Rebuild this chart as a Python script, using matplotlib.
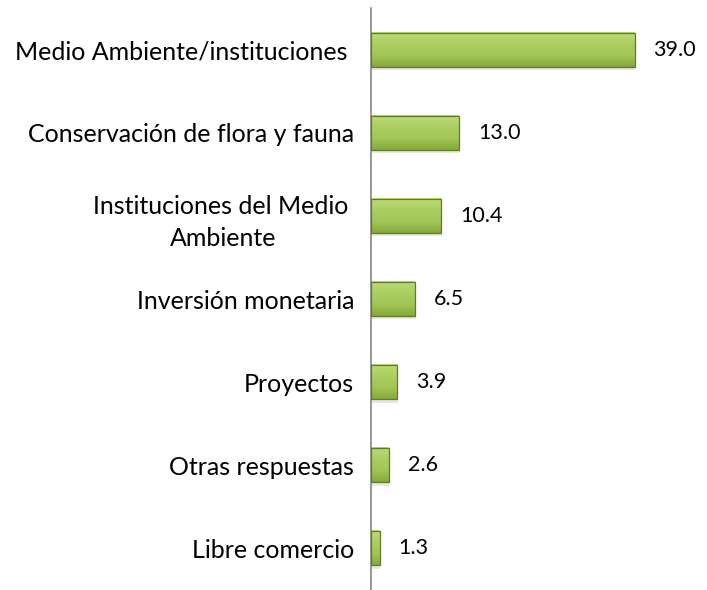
import numpy as np
import matplotlib.pyplot as plt
from matplotlib.colors import LinearSegmentedColormap

categories = ["Medio Ambiente/instituciones ", "Conservación de flora y fauna",
              "Instituciones del Medio \nAmbiente", "Inversión monetaria",
              "Proyectos", "Otras respuestas", "Libre comercio"]
values = [39.0, 13.0, 10.4, 6.5, 3.9, 2.6, 1.3]

plt.rcParams['font.family'] = ['Lato', 'DejaVu Sans']

fig = plt.figure(figsize=(7.07, 5.90), dpi=100)
ax = fig.add_axes([371 / 707, 0.0, 338 / 707, 582 / 590])

y = np.arange(len(values))
h = 0.41
cmap = LinearSegmentedColormap.from_list("g", ["#bedb78", "#abce62", "#a2c657", "#86aa38"])
grad = np.linspace(0, 1, 64).reshape(-1, 1)

for yi, v in zip(y, values):
    # shadow
    ax.barh(yi + 0.04, v, height=h, left=0.1, color="#e6e6e6", zorder=1)
    ax.imshow(grad, cmap=cmap, aspect="auto", extent=(0, v, yi + h / 2, yi - h / 2), zorder=2)
    ax.barh(yi, v, height=h, color="none", edgecolor="#5e7d22", linewidth=0.9, zorder=3)
    ax.text(v + 2.8, yi, f"{v:.1f}", va="center", ha="left", fontsize=15.5, color="#000000")

ax.set_ylim(len(values) - 0.5, -0.5)
ax.set_xlim(0, 50)
ax.set_yticks(y)
ax.set_yticklabels(categories, fontsize=18, multialignment="center", linespacing=1.5)
ax.tick_params(axis="y", length=0, pad=12)
ax.set_xticks([])
for s in ["top", "right", "bottom"]:
    ax.spines[s].set_visible(False)
ax.spines["left"].set_color("#868686")
ax.spines["left"].set_linewidth(1.2)

fig.savefig("out.png", dpi=100)
